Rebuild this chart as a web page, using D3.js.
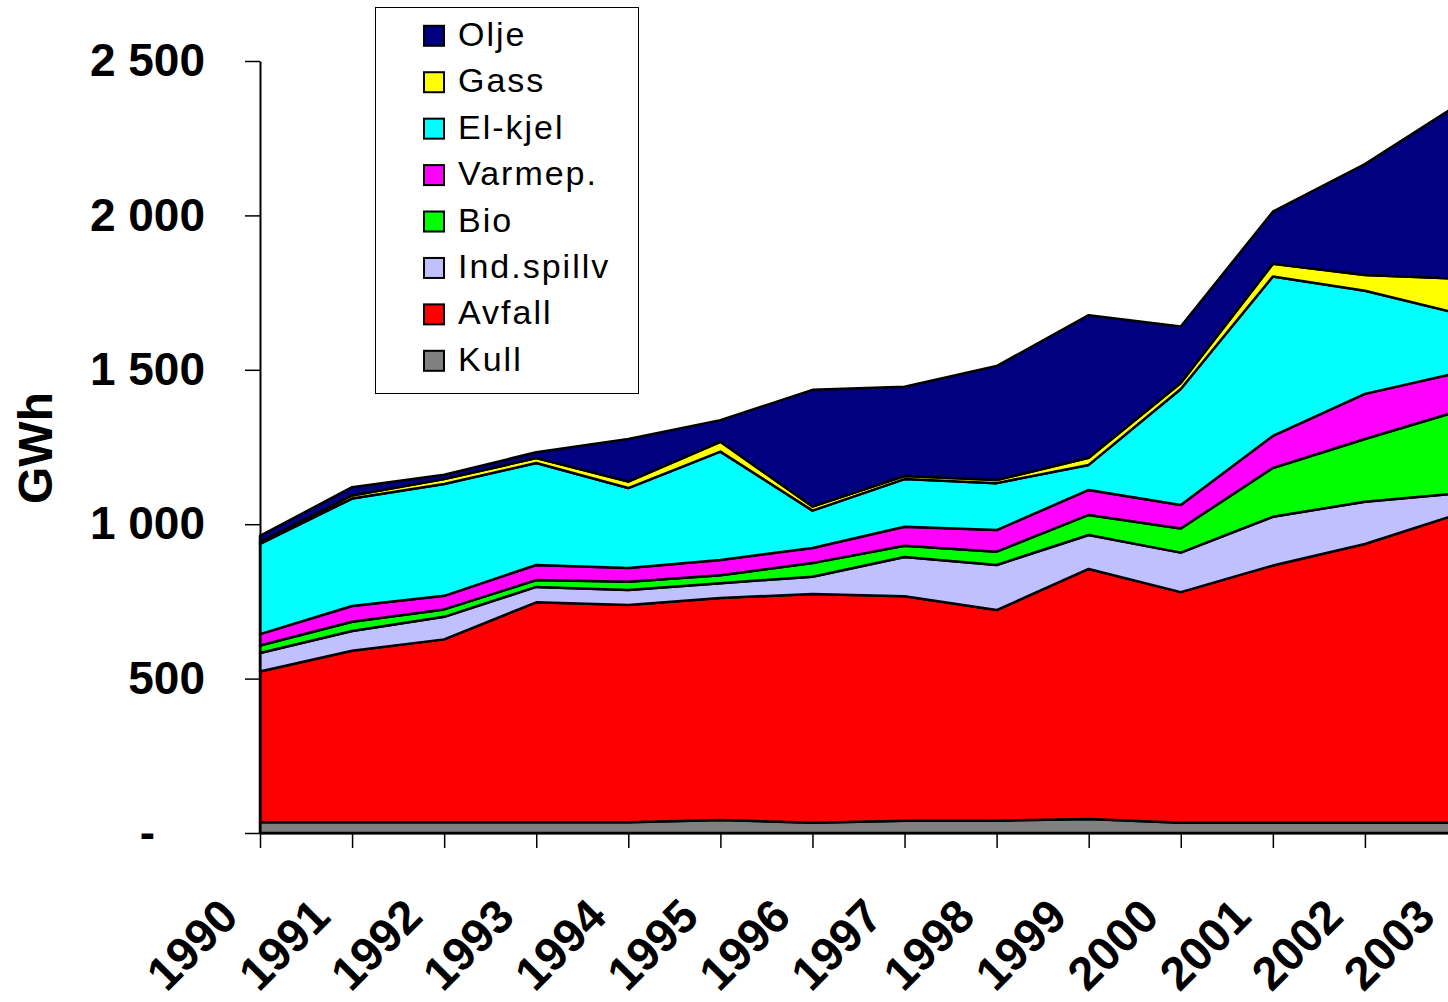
<!DOCTYPE html>
<html>
<head>
<meta charset="utf-8">
<script src="https://cdn.jsdelivr.net/npm/d3@7"></script>
<style>
  body { margin: 0; background: #fff; }
  svg { display: block; font-family: "Liberation Sans", Arial, sans-serif; }
</style>
</head>
<body>
<div id="chart"></div>
<script>
// Years on the x axis
var years = [1990, 1991, 1992, 1993, 1994, 1995, 1996, 1997, 1998, 1999, 2000, 2001, 2002, 2003];

// Series values (GWh)
var kull      = [35, 35, 35, 35, 35, 42, 33, 40, 40, 45, 33, 33, 33, 33];
var avfall    = [488, 555, 592, 712, 703, 719, 741, 727, 682, 810, 747, 833, 903, 999];
var indSpillv = [60, 64, 73, 50, 49, 48, 56, 127, 146, 110, 128, 158, 137, 68];
var bio       = [24, 30, 24, 22, 27, 26, 44, 36, 43, 65, 78, 158, 203, 265];
var varmep    = [37, 51, 44, 49, 44, 49, 49, 62, 70, 81, 76, 104, 146, 125];
var elKjel    = [292, 348, 362, 330, 259, 351, 121, 154, 152, 81, 376, 516, 334, 193];
var gass      = [6, 10, 16, 16, 21, 32, 13, 10, 10, 23, 19, 41, 51, 112];
var olje      = [20, 27, 14, 19, 138, 70, 378, 289, 369, 462, 183, 169, 359, 562];

// Stack order, bottom to top
var seriesNames = ["Kull", "Avfall", "Ind.spillv", "Bio", "Varmep.", "El-kjel", "Gass", "Olje"];
var seriesValues = [kull, avfall, indSpillv, bio, varmep, elKjel, gass, olje];
var seriesColors = ["#808080", "#ff0000", "#c0c0ff", "#00ff00", "#ff00ff", "#00ffff", "#ffff00", "#000080"];

var yTicks = [0, 500, 1000, 1500, 2000, 2500];
var yTickLabels = ["-", "500", "1 000", "1 500", "2 000", "2 500"];

var width = 1448, height = 1002;
var margin = {top: 61, left: 260, bottom: 169};
var plotBottom = height - margin.bottom;

var table = years.map(function (y, i) {
  var row = {year: y};
  seriesNames.forEach(function (n, k) { row[n] = seriesValues[k][i]; });
  return row;
});

var xScale = d3.scaleLinear().domain([1990, 2003]).range([margin.left, 1457]);
var yScale = d3.scaleLinear().domain([0, 2500]).range([plotBottom, margin.top]);

var stack = d3.stack().keys(seriesNames);
var layers = stack(table);

var area = d3.area()
    .x(function (d) { return xScale(d.data.year); })
    .y0(function (d) { return yScale(d[0]); })
    .y1(function (d) { return yScale(d[1]); });

var svg = d3.select("#chart").append("svg")
    .attr("width", width)
    .attr("height", height);

svg.append("g").selectAll("path")
    .data(layers)
  .enter().append("path")
    .attr("d", area)
    .attr("fill", function (d, i) { return seriesColors[i]; })
    .attr("stroke", "#000")
    .attr("stroke-width", 2.5)
    .attr("stroke-linejoin", "round");

// y axis
var yAxis = d3.axisLeft(yScale)
    .tickValues(yTicks)
    .tickSize(15)
    .tickSizeOuter(0)
    .tickPadding(40)
    .tickFormat(function (d, i) { return yTickLabels[i]; });

var gy = svg.append("g")
    .attr("transform", "translate(" + margin.left + ",0)")
    .call(yAxis);
gy.select(".domain").attr("stroke", "#000").attr("stroke-width", 2);
gy.selectAll(".tick line").attr("stroke", "#000").attr("stroke-width", 1.5);
gy.selectAll(".tick text")
    .attr("fill", "#000")
    .style("font-size", "46px")
    .style("font-weight", "bold")
    .attr("dx", function (d) { return d === 0 ? -50 : 0; });

// x axis
var xAxis = d3.axisBottom(xScale)
    .tickValues(years)
    .tickSize(15)
    .tickSizeOuter(0)
    .tickFormat(d3.format("d"));

var gx = svg.append("g")
    .attr("transform", "translate(0," + plotBottom + ")")
    .call(xAxis);
gx.select(".domain").attr("stroke", "#000").attr("stroke-width", 2);
gx.selectAll(".tick line").attr("stroke", "#000").attr("stroke-width", 1.5);
gx.selectAll(".tick text")
    .attr("fill", "#000")
    .attr("y", 0)
    .attr("dy", 0)
    .attr("text-anchor", "end")
    .attr("transform", "translate(-20,86) rotate(-45)")
    .style("font-size", "47px")
    .style("font-weight", "bold");

// y axis title
svg.append("text")
    .attr("transform", "translate(52,448) rotate(-90)")
    .attr("text-anchor", "middle")
    .style("font-size", "48px")
    .style("font-weight", "bold")
    .text("GWh");

// legend (top to bottom: reverse stack order)
var legend = svg.append("g");
legend.append("rect")
    .attr("x", 375.5).attr("y", 7.5)
    .attr("width", 263).attr("height", 386)
    .attr("fill", "#fff")
    .attr("stroke", "#000")
    .attr("stroke-width", 1);

var legendItems = seriesNames.map(function (n, i) { return {name: n, color: seriesColors[i]}; }).reverse();
var item = legend.selectAll(".item")
    .data(legendItems)
  .enter().append("g")
    .attr("transform", function (d, i) { return "translate(0," + (35.8 + i * 46.43) + ")"; });
item.append("rect")
    .attr("x", 424).attr("y", -10)
    .attr("width", 20).attr("height", 20)
    .attr("fill", function (d) { return d.color; })
    .attr("stroke", "#000")
    .attr("stroke-width", 2);
item.append("text")
    .attr("x", 458)
    .attr("y", 10)
    .style("font-size", "34px")
    .style("letter-spacing", "2px")
    .text(function (d) { return d.name; });
</script>
</body>
</html>
